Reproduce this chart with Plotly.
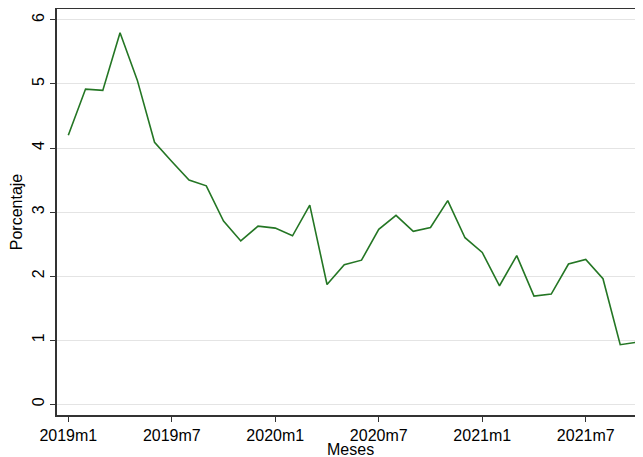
import plotly.graph_objects as go

months = [f"{y}m{m}" for y in (2019, 2020, 2021) for m in range(1, 13)][:34]
values = [4.20, 4.92, 4.90, 5.80, 5.06, 4.09, 3.79, 3.50, 3.41, 2.86,
          2.55, 2.78, 2.75, 2.63, 3.11, 1.87, 2.18, 2.25, 2.73, 2.95,
          2.70, 2.76, 3.18, 2.60, 2.37, 1.85, 2.32, 1.69, 1.72, 2.19,
          2.26, 1.96, 0.93, 0.97]
x_ticks = ["2019m1", "2019m7", "2020m1", "2020m7", "2021m1", "2021m7"]
y_ticks = [0, 1, 2, 3, 4, 5, 6]

font = "Liberation Sans, Arial, Helvetica, sans-serif"

fig = go.Figure(go.Scatter(
    x=months, y=values, mode="lines",
    line=dict(color="rgb(36,118,36)", width=1.6),
))

# page body has an 8px default margin, so the figure is offset by 8px
fig.update_layout(
    width=635, height=449,
    margin=dict(l=49, r=0, t=1, b=42, autoexpand=False),
    paper_bgcolor="white", plot_bgcolor="white",
    showlegend=False,
    font=dict(family=font, size=16, color="black"),
    annotations=[dict(
        text="Meses", xref="paper", yref="paper", x=0.5, y=0,
        xanchor="center", yanchor="middle", yshift=-34, showarrow=False,
        font=dict(size=16, color="black"),
    )],
)
fig.update_xaxes(
    type="category", categoryorder="array", categoryarray=months,
    range=[-0.655, 33.32], automargin=False,
    tickmode="array", tickvals=x_ticks, ticktext=x_ticks,
    ticks="outside", ticklen=5, tickwidth=1.2, tickcolor="#333",
    showline=True, linecolor="#333", linewidth=1.6, mirror=True,
    showgrid=False, zeroline=False,
    ticklabelstandoff=0,
    tickfont=dict(size=16),
)
fig.update_yaxes(
    range=[-0.167, 6.17], automargin=False,
    tickmode="array", tickvals=y_ticks,
    tickangle=-90,
    ticks="outside", ticklen=5, tickwidth=1.2, tickcolor="#333",
    showline=True, linecolor="#333", linewidth=1.6, mirror=False,
    showgrid=True, gridcolor="#e4e4e4", gridwidth=1.2,
    zeroline=False,
    title=dict(text="Porcentaje", standoff=6, font=dict(size=16)),
    tickfont=dict(size=16),
)

fig.write_html("out.html")
